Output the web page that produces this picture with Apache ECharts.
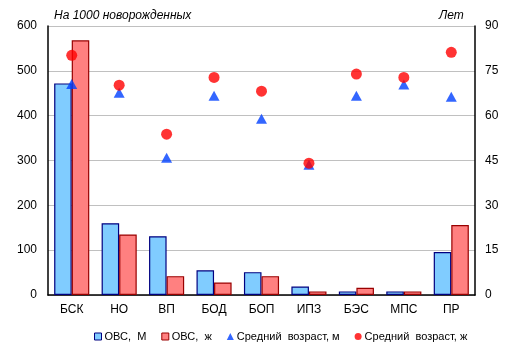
<!DOCTYPE html>
<html><head><meta charset="utf-8">
<script src="https://cdn.jsdelivr.net/npm/echarts@6/dist/echarts.min.js"></script>
<style>html,body{margin:0;padding:0;background:#fff}#c{width:515px;height:353px}</style>
</head><body><div id="c"></div>
<script>
const categories = ['БСК','НО','ВП','БОД','БОП','ИПЗ','БЭС','МПС','ПР'];
const ovsM = [472, 160, 131, 55, 51, 19, 8, 8, 96];
const ovsF = [568, 135, 42, 28, 42, 8, 16, 8, 156];
const ageM = [70.6, 67.7, 45.9, 66.7, 59.0, 43.6, 66.7, 70.4, 66.3];
const ageF = [80.2, 70.2, 53.8, 72.8, 68.2, 44.1, 73.9, 72.8, 81.2];
const leftTicks = [0, 600, 100];
const rightTicks = [0, 90, 15];

const chart = echarts.init(document.getElementById('c'), null, {renderer:'canvas'});
const font = 'Liberation Sans, Arial, sans-serif';
chart.setOption({
  animation: false,
  textStyle: {fontFamily: font},
  title: [
    {text: 'На 1000 новорожденных', left: 49, top: 5, textStyle: {fontSize: 12, fontStyle: 'italic', fontWeight: 'normal', color: '#000', fontFamily: font}},
    {text: 'Лет', left: 434, top: 5, textStyle: {fontSize: 12, fontStyle: 'italic', fontWeight: 'normal', color: '#000', fontFamily: font}}
  ],
  grid: {left: 48, right: 40, top: 26, bottom: 58, containLabel: false},
  legend: {
    top: 326, left: 89, itemWidth: 7, itemHeight: 7, itemGap: 15,
    textStyle: {fontSize: 11, color: '#000', fontFamily: font, padding: [0,0,0,-2]},
    data: [
      {name: 'ОВС,  М', icon: 'rect', itemStyle: {color: '#80CCFF', borderColor: '#000080', borderWidth: 1}},
      {name: 'ОВС,  ж', icon: 'rect', itemStyle: {color: '#FF8080', borderColor: '#990000', borderWidth: 1}},
      {name: 'Средний  возраст, м', icon: 'triangle'},
      {name: 'Средний  возраст, ж', icon: 'circle'}
    ]
  },
  xAxis: {
    type: 'category', data: categories,
    axisLine: {lineStyle: {color: '#000', width: 1.5}},
    axisTick: {show: false},
    axisLabel: {fontSize: 12, color: '#000', margin: 9, fontFamily: font},
    splitLine: {show: false}
  },
  yAxis: [
    {type: 'value', min: leftTicks[0], max: leftTicks[1], interval: leftTicks[2],
     axisLine: {show: true, lineStyle: {color: '#000', width: 1.5}},
     axisTick: {show: false},
     axisLabel: {fontSize: 12, color: '#000', margin: 11, fontFamily: font},
     splitLine: {show: true, lineStyle: {color: '#c0c0c0', width: 1}}},
    {type: 'value', min: rightTicks[0], max: rightTicks[1], interval: rightTicks[2], position: 'right',
     axisLine: {show: true, lineStyle: {color: '#000', width: 1.5}},
     axisTick: {show: false},
     axisLabel: {fontSize: 12, color: '#000', margin: 10, fontFamily: font},
     splitLine: {show: false}}
  ],
  series: [
    {name: 'ОВС,  М', type: 'bar', data: ovsM, barGap: '0%', barCategoryGap: '26%',
     itemStyle: {color: '#80CCFF', borderColor: '#000080', borderWidth: 1.2}},
    {name: 'ОВС,  ж', type: 'bar', data: ovsF,
     itemStyle: {color: '#FF8080', borderColor: '#990000', borderWidth: 1.2}},
    {name: 'Средний  возраст, м', type: 'scatter', yAxisIndex: 1, data: ageM,
     symbol: 'triangle', symbolSize: [11, 10], itemStyle: {color: '#0040FF'}, z: 3},
    {name: 'Средний  возраст, ж', type: 'scatter', yAxisIndex: 1, data: ageF,
     symbol: 'circle', symbolSize: 11, itemStyle: {color: '#FF0000'}, z: 4}
  ]
});
</script></body></html>
